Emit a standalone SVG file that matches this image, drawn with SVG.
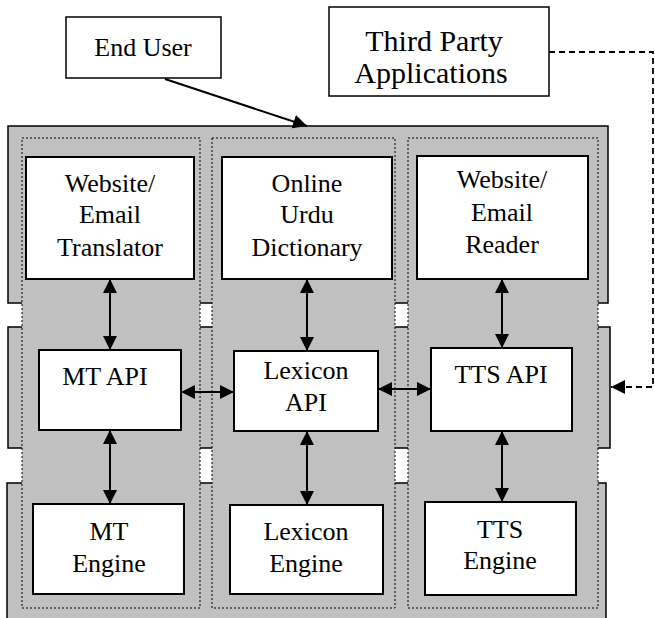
<svg xmlns="http://www.w3.org/2000/svg" width="655" height="618" viewBox="0 0 655 618">
<style>
.layer{fill:#c0c0c0;stroke:#000;stroke-width:1.5}
.col{fill:#c0c0c0;stroke:#000;stroke-width:1;stroke-dasharray:2,2}
.box{fill:#fff;stroke:#000;stroke-width:2}
.t{font-family:"Liberation Serif","Times New Roman",serif;font-size:26px;fill:#000;text-anchor:middle}
.big{font-size:30px}
.ln{stroke:#000;stroke-width:2;fill:none}
.dash{stroke:#000;stroke-width:1.8;fill:none;stroke-dasharray:6,4}
</style>
<defs>
<marker id="ah" viewBox="0 0 14 14" refX="14" refY="7" markerWidth="14" markerHeight="14" markerUnits="userSpaceOnUse" orient="auto-start-reverse">
<path d="M0,0 L14,7 L0,14 Z" fill="#000"/>
</marker>
</defs>
<rect width="655" height="618" fill="#fff"/>
<g id="layers">
<rect class="layer" x="8" y="126" width="600" height="177"/>
<rect class="layer" x="8" y="327" width="602" height="121"/>
<rect class="layer" x="7" y="483" width="599" height="140"/>
</g>
<g id="columns">
<rect class="col" x="22" y="138" width="178" height="470"/>
<rect class="col" x="212" y="138" width="183" height="470"/>
<rect class="col" x="408" y="138" width="190" height="470"/>
</g>
<g id="connectors">
<line class="ln" x1="165" y1="79" x2="307" y2="126" marker-end="url(#ah)"/>
<path class="dash" d="M549,52 H653 V387 H611" marker-end="url(#ah)"/>
<line class="ln" x1="110" y1="279" x2="110" y2="350" marker-start="url(#ah)" marker-end="url(#ah)"/>
<line class="ln" x1="110" y1="430" x2="110" y2="504" marker-start="url(#ah)" marker-end="url(#ah)"/>
<line class="ln" x1="307" y1="279" x2="307" y2="351" marker-start="url(#ah)" marker-end="url(#ah)"/>
<line class="ln" x1="307" y1="431" x2="307" y2="505" marker-start="url(#ah)" marker-end="url(#ah)"/>
<line class="ln" x1="502" y1="279" x2="502" y2="348" marker-start="url(#ah)" marker-end="url(#ah)"/>
<line class="ln" x1="502" y1="431" x2="502" y2="502" marker-start="url(#ah)" marker-end="url(#ah)"/>
<line class="ln" x1="181" y1="392" x2="234" y2="392" marker-start="url(#ah)" marker-end="url(#ah)"/>
<line class="ln" x1="378" y1="389" x2="431" y2="389" marker-start="url(#ah)" marker-end="url(#ah)"/>
</g>
<g id="end-user">
<rect class="box" x="66" y="17" width="155" height="61" style="stroke-width:1.5"/>
<text class="t" x="143" y="56">End User</text>
</g>
<g id="third-party">
<rect class="box" x="329" y="7" width="220" height="89" style="stroke-width:1.5"/>
<text class="t big" x="434" y="51">Third Party</text>
<text class="t big" x="431" y="83">Applications</text>
</g>
<g id="website-translator">
<rect class="box" x="26" y="157" width="168" height="122"/>
<text class="t" x="110" y="192">Website/</text>
<text class="t" x="110" y="223">Email</text>
<text class="t" x="110" y="256">Translator</text>
</g>
<g id="online-dictionary">
<rect class="box" x="222" y="157" width="170" height="122"/>
<text class="t" x="307" y="192">Online</text>
<text class="t" x="307" y="223">Urdu</text>
<text class="t" x="307" y="256">Dictionary</text>
</g>
<g id="website-reader">
<rect class="box" x="417" y="156" width="171" height="123"/>
<text class="t" x="502" y="188">Website/</text>
<text class="t" x="502" y="221">Email</text>
<text class="t" x="502" y="253">Reader</text>
</g>
<g id="mt-api">
<rect class="box" x="39" y="350" width="142" height="80"/>
<text class="t" x="105" y="385">MT API</text>
</g>
<g id="lexicon-api">
<rect class="box" x="234" y="351" width="144" height="80"/>
<text class="t" x="306" y="379">Lexicon</text>
<text class="t" x="306" y="411">API</text>
</g>
<g id="tts-api">
<rect class="box" x="431" y="348" width="141" height="83"/>
<text class="t" x="501" y="383">TTS API</text>
</g>
<g id="mt-engine">
<rect class="box" x="33" y="504" width="151" height="90"/>
<text class="t" x="109" y="540">MT</text>
<text class="t" x="109" y="572">Engine</text>
</g>
<g id="lexicon-engine">
<rect class="box" x="230" y="505" width="153" height="89"/>
<text class="t" x="306" y="540">Lexicon</text>
<text class="t" x="306" y="572">Engine</text>
</g>
<g id="tts-engine">
<rect class="box" x="425" y="502" width="151" height="93"/>
<text class="t" x="500" y="538">TTS</text>
<text class="t" x="500" y="569">Engine</text>
</g>
</svg>
